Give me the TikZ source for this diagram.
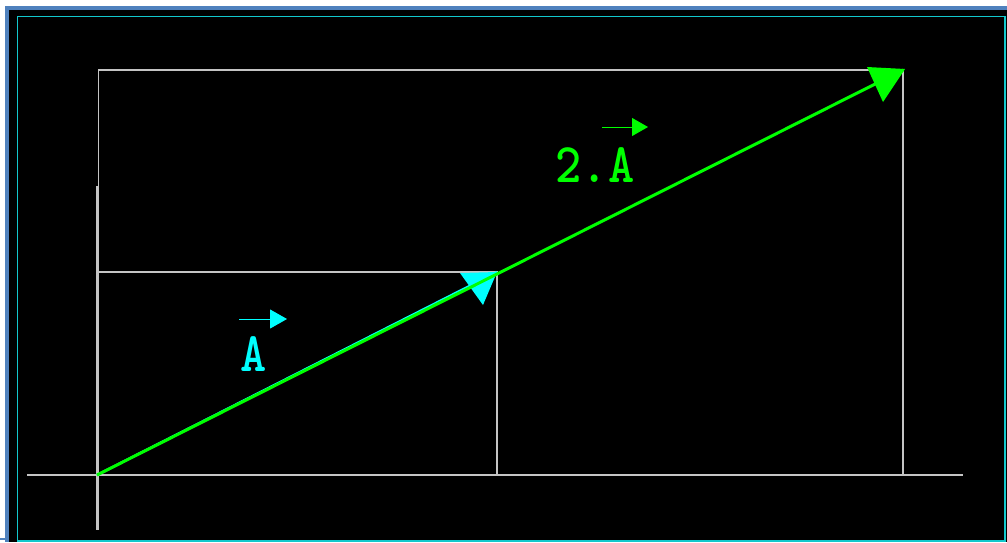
\documentclass[tikz,border=0pt]{standalone}
\usepackage{graphicx}
\usetikzlibrary{calc,arrows.meta,positioning}
\definecolor{marco}{HTML}{4F81BD}
\definecolor{borde}{HTML}{12C8CC}
\definecolor{rejilla}{HTML}{C4C4C4}
\definecolor{cian}{HTML}{00FFFF}
\definecolor{verde}{HTML}{00FF00}

\begin{document}
\begin{tikzpicture}[x=1pt,y=-1pt,>=Latex,line cap=butt,
    etiqueta/.style={font=\ttfamily\bfseries\fontsize{50}{50}\selectfont,inner sep=0pt}]
        \useasboundingbox (0,0) rectangle (1007,542);
        % fondo y marco
        \fill[white] (0,0) rectangle (1007,542);
        \fill[marco] (5,6) rectangle (1007,542);
        \fill[black] (9,10) rectangle (1007,542);
        \draw[marco,line width=2pt] (0,539) -- (9,539);
        \draw[borde,line width=1.2pt] (17.5,16.5) rectangle (1005,541);
        \coordinate (O) at (97,475);
        \coordinate (A) at (497,272);
        \coordinate (B) at (903,70);
        % ejes y rectangulos
        \draw[rejilla,line width=2.2pt] (27,475) -- (963,475);
        \draw[rejilla,line width=2.2pt] (97.5,186) -- (97.5,530);
        \draw[rejilla,line width=1.8pt] (98.5,186) -- (98.5,70) -- (B) -- (903,475);
        \draw[rejilla,line width=1.2pt] (98.5,272) -- (A) -- (497,475);
        % vector A
        \draw[cian,line width=2.4pt] (O) -- (A);
        \fill[cian] (460,273) -- (497,272) -- (483,305) -- cycle;
        % vector 2A
        \draw[verde,line width=3pt] (O) -- (B);
        \fill[verde] (867,67) -- (905,69) -- (883,102) -- cycle;
        % etiquetas
        \node[etiqueta,text=cian] (lblA) at (254,354) {\scalebox{1}[1.12]{A}};
        \draw[cian,line width=1pt,-{Triangle[length=17pt,width=19pt]}]
              (239,319) -- (287,319);
        \node[etiqueta,text=verde] (lbl2A) at (595,165) {\scalebox{1}[1.12]{2.A}};
        \draw[verde,line width=1pt,-{Triangle[length=16pt,width=18pt]}]
              (602,127) -- (648,127);
      \end{tikzpicture}
\end{document}
